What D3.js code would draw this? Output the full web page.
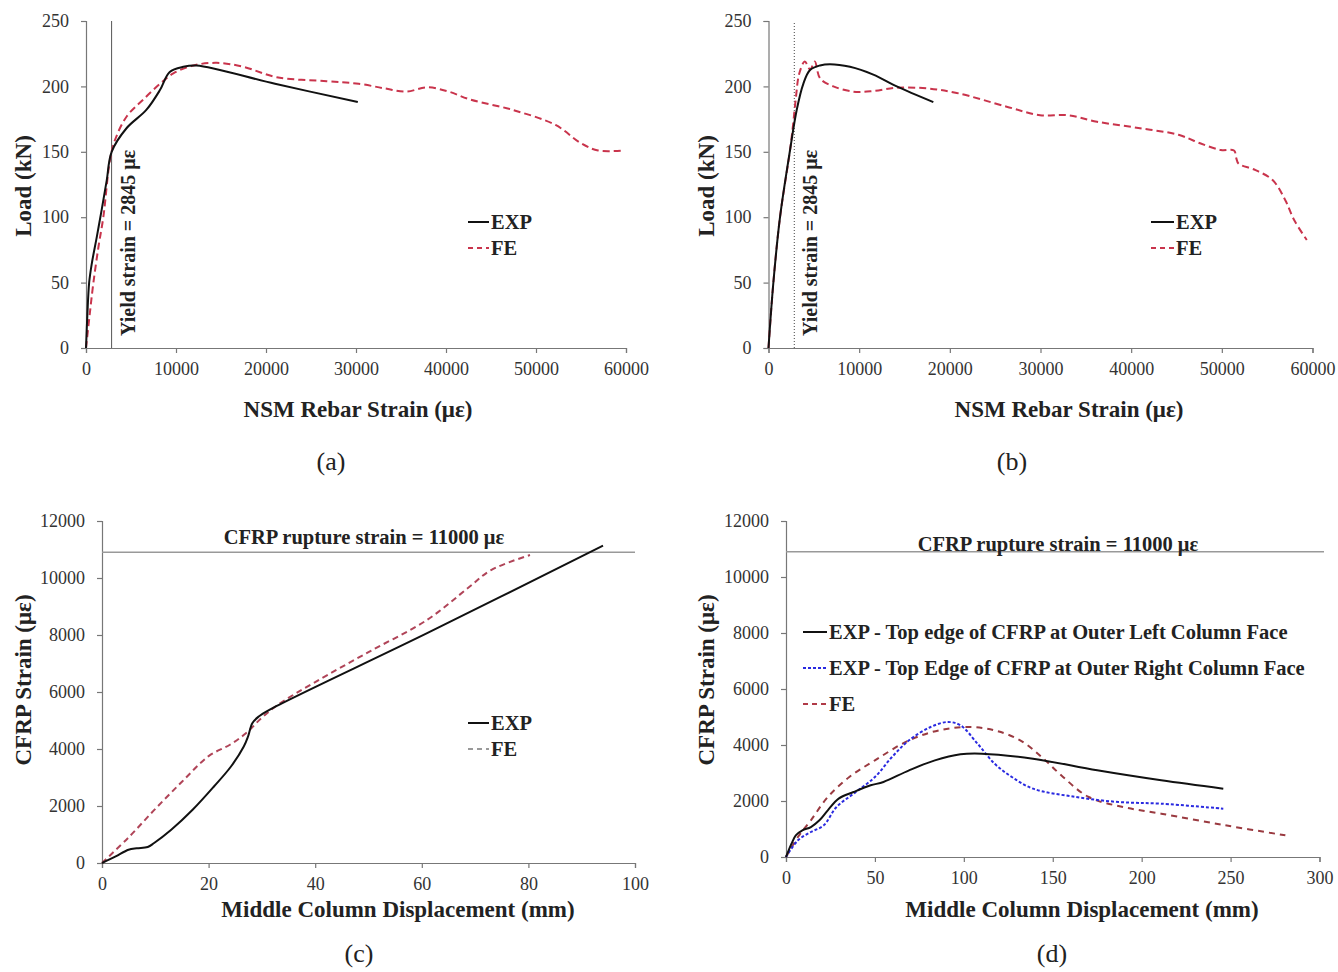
<!DOCTYPE html>
<html><head><meta charset="utf-8">
<script src="https://cdn.jsdelivr.net/npm/d3@7"></script>
<style>
body{margin:0;background:#fff;}
svg{font-family:"Liberation Serif","Times New Roman",serif;}
.tick text{fill:#333;font-size:18px;font-family:"Liberation Serif","Times New Roman",serif;}
.domain,.tick line{stroke:#777;stroke-width:1.2;}
.title{font-weight:bold;font-size:23px;fill:#222;}
.ylab{font-weight:bold;font-size:20px;fill:#222;}
.leg{font-weight:bold;font-size:20.5px;fill:#222;}
.rup{font-weight:bold;font-size:20.5px;fill:#222;}
.plab{font-size:26px;fill:#222;}
</style></head><body>
<svg id="c" width="1338" height="972"></svg>
<script>
// ---------- data ----------
// panel (a): NSM rebar strain vs load
const aExpStrain = [0,150,350,630,1200,1750,2300,2850,4500,6700,8200,9300,10800,12300,21000,30200];
const aExpLoad   = [0,25,50,64,85,106,128,150,168,182,197,211,215,216,202,188];
const aFeStrain  = [0,400,815,1400,1925,2670,3220,4520,6370,8220,9700,11930,14520,17480,21190,26740,30300,33180,35560,37900,40300,42670,47420,52170,55000,56900,59770];
const aFeLoad    = [0,25,49.5,78,100,144,159,177,190,202,210,216,218,215,207,204,202,198.5,196,199.3,196,190,182,170.5,156.5,151,151];
// panel (b)
const bExpStrain = [0,530,1270,2370,3110,3840,4580,5680,6780,8990,11560,14140,18180];
const bExpLoad   = [0,49.5,100,151,182,202,212.5,216,217,215,209,200,188];
const bFeStrain  = [0,530,1270,2370,2700,3000,3400,4000,4600,5100,5700,7150,9350,11560,14140,17450,20760,26270,29950,32960,36230,40980,45220,47600,49900,51340,51600,51830,53720,55600,57000,57960,59370];
const bFeLoad    = [0,49.5,100,151,170,190,210,219,213,219,206,200,196,196.5,199,198.5,195,184.5,178,178,173,168,163,156.5,151.4,151,145,141,136,128.4,113,98,82.6];
// panel (c): middle column displacement vs CFRP strain
const cExpDisp   = [0,2.57,4.97,6.5,8.58,9.78,12.99,17.0,21.0,24.2,26.6,27.4,28.2,29.4,31.4,61.0,94.0];
const cExpStrain = [0,231,466,520,560,701,1167,1868,2685,3386,4087,4438,4905,5138,5373,8063,11133];
const cFeDisp    = [0,5,10,15,20,24,27,30,33,40,50,61,69,73,80.3];
const cFeStrain  = [0,900,1900,2850,3750,4150,4550,5100,5550,6350,7400,8530,9700,10280,10806];
// panel (d)
const dLeftDisp    = [0,3.1,5.5,9.2,14,18.8,23.5,29.6,38,47.6,54.8,69.2,83.7,98.1,110.1,138.9,175,211,245.9];
const dLeftStrain  = [0,476,774,952,1071,1310,1667,2085,2321,2560,2679,3095,3452,3667,3690,3512,3095,2738,2440];
const dRightDisp   = [0,6.7,14,21.2,28.4,38,50,59.6,69.2,81.3,90.9,98.1,107.7,117.3,127,138.9,163,187,211,245.9];
const dRightStrain = [0,595,893,1131,1786,2262,2857,3571,4167,4643,4821,4702,4048,3333,2857,2440,2143,1964,1905,1726];
const dFeDisp      = [0,6.7,14,23.5,35.6,50,69.2,86,102.9,117.3,131.7,143.8,155.8,170.2,189.5,211,247.1,280.8];
const dFeStrain    = [0,714,1310,2143,2857,3452,4167,4524,4643,4524,4167,3571,2857,2143,1786,1548,1131,774];

const loadTicks = [0,50,100,150,200,250];
const rebarTicks = [0,10000,20000,30000,40000,50000,60000];
const cfrpTicks = [0,2000,4000,6000,8000,10000,12000];
const cDispTicks = [0,20,40,60,80,100];
const dDispTicks = [0,50,100,150,200,250,300];
const yieldStrain = 2845;
const ruptureLine = 10900;

const svg = d3.select("#c");
const RED = "#c9344c";

function zip(xs, ys){ return xs.map((x,i)=>[x,ys[i]]); }

function panel(o){
  const g = svg.append("g");
  const x = d3.scaleLinear().domain(o.xd).range(o.xr);
  const y = d3.scaleLinear().domain(o.yd).range(o.yr);
  g.append("g").attr("transform",`translate(0,${o.yr[0]})`)
    .call(d3.axisBottom(x).tickValues(o.xt).tickFormat(d3.format("d")).tickSizeOuter(0).tickSize(5).tickPadding(9))
    .attr("font-family",null).attr("font-size",null);
  g.append("g").attr("transform",`translate(${o.xr[0]},0)`)
    .call(d3.axisLeft(y).tickValues(o.yt).tickFormat(d3.format("d")).tickSizeOuter(0).tickSize(5).tickPadding(12))
    .attr("font-family",null).attr("font-size",null);
  return {g,x,y};
}

function drawLine(p, data, color, dash, w){
  const line = d3.line().x(d=>p.x(d[0])).y(d=>p.y(d[1])).curve(d3.curveCatmullRom.alpha(0.5));
  p.g.append("path").datum(data).attr("fill","none").attr("stroke",color)
    .attr("stroke-width",w||2).attr("stroke-dasharray",dash||null).attr("d",line);
}

function legend(g, items, x0, y0, dy, len){
  items.forEach((it,i)=>{
    const yy = y0 + i*dy;
    g.append("line").attr("x1",x0).attr("x2",x0+len).attr("y1",yy).attr("y2",yy)
      .attr("stroke",it.c).attr("stroke-width",2).attr("stroke-dasharray",it.d||null);
    g.append("text").attr("class","leg").attr("x",x0+len+2).attr("y",yy+7).text(it.t);
  });
}

function vtext(g, x, y, t, cls, anchor){
  g.append("text").attr("class",cls).attr("transform",`translate(${x},${y}) rotate(-90)`)
    .attr("text-anchor",anchor||"middle").text(t);
}

// ---------- (a) ----------
const pa = panel({xd:[0,60000],xr:[86,626],yd:[0,250],yr:[348,21],xt:rebarTicks,yt:loadTicks});
pa.g.append("line").attr("x1",pa.x(yieldStrain)).attr("x2",pa.x(yieldStrain)).attr("y1",pa.y(0)).attr("y2",pa.y(250))
  .attr("stroke","#555").attr("stroke-width",1);
vtext(pa.g, 135, 336, "Yield strain = 2845 με", "ylab", "start");
drawLine(pa, zip(aFeStrain,aFeLoad), RED, "7,4", 2);
drawLine(pa, zip(aExpStrain,aExpLoad), "#111", null, 2);
legend(pa.g, [{t:"EXP",c:"#111"},{t:"FE",c:RED,d:"5,4"}], 468, 222, 26, 21);
vtext(pa.g, 31, 186, "Load (kN)", "title");
pa.g.append("text").attr("class","title").attr("x",358).attr("y",417).attr("text-anchor","middle").text("NSM Rebar Strain (με)");
pa.g.append("text").attr("class","plab").attr("x",331).attr("y",470).attr("text-anchor","middle").text("(a)");

// ---------- (b) ----------
const pb = panel({xd:[0,60000],xr:[768.5,1312.5],yd:[0,250],yr:[348,21],xt:rebarTicks,yt:loadTicks});
pb.g.append("line").attr("x1",pb.x(yieldStrain)).attr("x2",pb.x(yieldStrain)).attr("y1",pb.y(0)).attr("y2",pb.y(250))
  .attr("stroke","#444").attr("stroke-width",1).attr("stroke-dasharray","1,2");
vtext(pb.g, 817, 336, "Yield strain = 2845 με", "ylab", "start");
drawLine(pb, zip(bFeStrain,bFeLoad), RED, "7,4", 2);
drawLine(pb, zip(bExpStrain,bExpLoad), "#111", null, 2);
legend(pb.g, [{t:"EXP",c:"#111"},{t:"FE",c:RED,d:"5,4"}], 1151, 222, 26, 23);
vtext(pb.g, 714, 186, "Load (kN)", "title");
pb.g.append("text").attr("class","title").attr("x",1069).attr("y",417).attr("text-anchor","middle").text("NSM Rebar Strain (με)");
pb.g.append("text").attr("class","plab").attr("x",1012).attr("y",470).attr("text-anchor","middle").text("(b)");

// ---------- (c) ----------
const pc = panel({xd:[0,100],xr:[102,635],yd:[0,12000],yr:[863,521],xt:cDispTicks,yt:cfrpTicks});
pc.g.append("line").attr("x1",pc.x(0)).attr("x2",pc.x(100)).attr("y1",pc.y(ruptureLine)).attr("y2",pc.y(ruptureLine))
  .attr("stroke","#999").attr("stroke-width",1.5);
pc.g.append("text").attr("class","rup").attr("x",364).attr("y",544).attr("text-anchor","middle").text("CFRP rupture strain = 11000 με");
drawLine(pc, zip(cFeDisp,cFeStrain), "#b04458", "6,4", 2);
drawLine(pc, zip(cExpDisp,cExpStrain), "#111", null, 2);
legend(pc.g, [{t:"EXP",c:"#111"},{t:"FE",c:"#999",d:"5,4"}], 468, 723, 26, 21);
vtext(pc.g, 31, 680, "CFRP Strain (με)", "title");
pc.g.append("text").attr("class","title").attr("x",398).attr("y",917).attr("text-anchor","middle").text("Middle Column Displacement (mm)");
pc.g.append("text").attr("class","plab").attr("x",359).attr("y",962).attr("text-anchor","middle").text("(c)");

// ---------- (d) ----------
const pd = panel({xd:[0,300],xr:[786,1319.5],yd:[0,12000],yr:[857,521],xt:dDispTicks,yt:cfrpTicks});
pd.g.append("line").attr("x1",pd.x(0)).attr("x2",1324).attr("y1",pd.y(ruptureLine)).attr("y2",pd.y(ruptureLine))
  .attr("stroke","#999").attr("stroke-width",1.5);
pd.g.append("text").attr("class","rup").attr("x",1058).attr("y",551).attr("text-anchor","middle").text("CFRP rupture strain = 11000 με");
drawLine(pd, zip(dFeDisp,dFeStrain), "#9a3a40", "6,5", 2);
drawLine(pd, zip(dRightDisp,dRightStrain), "#2a2ae0", "3,2", 2);
drawLine(pd, zip(dLeftDisp,dLeftStrain), "#111", null, 2);
legend(pd.g, [{t:"EXP - Top edge of CFRP at Outer Left Column Face",c:"#111"},
              {t:"EXP - Top Edge of CFRP at Outer Right Column Face",c:"#2a2ae0",d:"3,2"},
              {t:"FE",c:"#b03a48",d:"5,4"}], 803, 632, 36, 24);
vtext(pd.g, 714, 680, "CFRP Strain (με)", "title");
pd.g.append("text").attr("class","title").attr("x",1082).attr("y",917).attr("text-anchor","middle").text("Middle Column Displacement (mm)");
pd.g.append("text").attr("class","plab").attr("x",1052).attr("y",962).attr("text-anchor","middle").text("(d)");
</script>
</body></html>
